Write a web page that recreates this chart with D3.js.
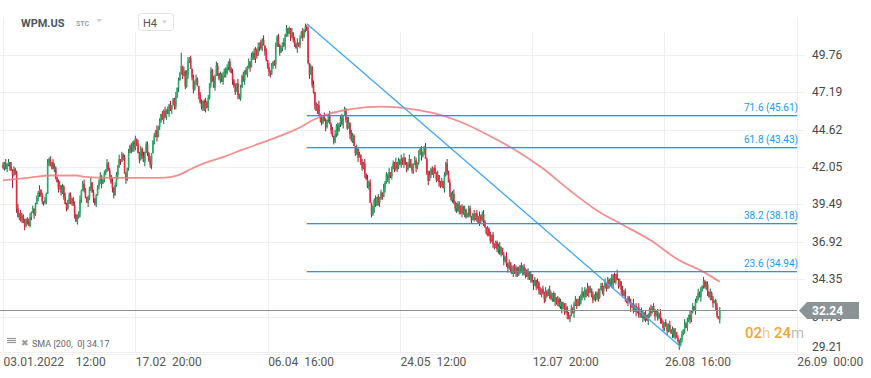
<!DOCTYPE html>
<html>
<head>
<meta charset="utf-8">
<script src="https://cdn.jsdelivr.net/npm/d3@7"></script>
<style>
    body { margin: 0; background: #fff; font-family: Roboto, "Noto Sans", sans-serif; }
    svg { display: block; }
</style>
</head>
<body>
<div id="chart"></div>
<script>
/* * * * * * * * * * * * * *
*      WPM.US H4 chart      *
* * * * * * * * * * * * * */

// x axis: bar index of each date tick and its label
const tickIdx = [0, 98, 196, 294, 392, 490, 588];
const tickLabels = ["03.01.2022    12:00", "17.02  20:00", "06.04  16:00", "24.05  12:00", "12.07  20:00", "26.08  16:00", "26.09  00:00"];

// y axis price ticks
const priceTicks = [49.76, 47.19, 44.62, 42.05, 39.49, 36.92, 34.35, 31.78, 29.21];

// closes per bar, one array per date-tick interval
const firstOpen = 42.2;
const closes0 = [42.0, 42.3, 41.9, 42.2, 42.4, 42.1, 41.8, 41.5, 41.9, 41.7,
    39.2, 38.6,
    38.9, 38.4, 38.7, 38.2, 38.0, 38.5, 38.3, 38.0, 38.6,
    38.9, 39.2, 38.8, 39.5, 39.9, 40.3, 40.5, 40.1, 39.7, 39.6,
    39.8, 40.2, 42.3,
    42.6, 42.2, 42.4, 41.9, 42.0,
    41.3, 41.0, 40.6, 40.8,
    40.3, 40.7, 40.0, 39.5, 39.2,
    39.8, 40.1, 39.6, 39.9, 39.4,
    38.8, 38.3, 38.6, 38.9,
    39.8, 40.4, 40.9, 40.5,
    40.0, 39.6, 39.9, 40.6, 41.0, 40.3,
    39.9, 39.5, 40.1, 40.7,
    41.0, 41.4, 40.9, 41.2,
    41.6, 41.9, 42.3, 41.8, 41.5,
    41.0, 40.6, 40.1, 40.8,
    41.5, 42.1, 42.6, 42.4, 42.9, 42.7,
    41.6, 41.2, 42.0,
    43.0, 43.5, 43.2, 43.8, 43.4];
const closes1 = [44.0,
    43.6, 43.0, 42.6, 43.3, 42.8, 42.4, 43.1,
    43.6, 43.0, 42.5, 42.2, 43.0,
    43.8, 44.2, 44.6, 44.1, 44.8,
    45.2, 45.7, 45.3, 45.9, 45.5,
    46.0, 45.7, 46.3, 46.0,
    46.3, 46.7, 46.2, 46.9,
    47.5, 48.0, 48.5,
    49.0, 48.3,
    48.6, 47.6,
    48.4, 49.3, 49.5, 48.8,
    48.2, 47.4,
    47.9, 48.1,
    47.6, 47.0, 46.5, 46.2,
    46.6, 46.0, 46.5, 46.1, 46.8,
    47.8, 48.7, 48.0,
    47.5,
    48.3, 49.0,
    48.5, 48.1, 48.4, 47.9,
    48.3, 48.8, 48.5, 48.9,
    49.3, 48.8,
    48.5, 48.0, 47.6, 47.2, 47.8, 47.0, 46.8,
    47.5, 48.3, 48.0, 48.7, 48.4,
    48.9, 49.3, 48.9, 49.6, 49.9, 49.5,
    50.1, 49.7, 50.3, 50.6, 50.2, 50.8, 50.4,
    50.0, 49.4];
const closes2 = [48.9, 48.6,
    48.4, 49.0,
    49.3, 49.1,
    50.3, 51.0,
    50.4, 49.9, 50.2,
    50.6, 50.4,
    51.1, 51.6,
    51.2, 51.5, 51.0,
    51.3, 50.8,
    50.5, 50.2, 50.6, 50.4,
    50.9, 51.3,
    51.0, 51.5, 51.7,
    51.4,
    49.2, 48.4, 48.9, 47.7,
    47.2, 46.3,
    45.9, 46.3, 45.7, 45.4,
    45.1, 45.5, 45.2, 44.8,
    45.3, 45.6, 45.0, 44.6,
    44.2, 43.8, 44.3,
    44.9, 44.5, 45.0,
    45.4, 45.0, 45.6,
    46.0,
    45.3, 44.7, 45.1,
    44.3, 43.9, 44.2,
    43.5, 43.0, 43.3,
    42.7, 42.9, 42.4,
    42.0, 42.3, 41.6,
    41.2, 40.7, 41.0,
    39.6, 38.8,
    39.2,
    39.8, 39.4, 40.0, 39.6,
    39.9, 40.3, 40.0, 40.6,
    41.0, 41.5, 41.2, 41.7,
    41.4, 41.9, 42.3, 41.9,
    42.4, 42.0, 42.5];
const closes3 = [42.2,
    42.6, 42.3, 42.7, 42.2, 41.9,
    42.3, 42.6, 42.1, 41.8, 42.2,
    42.5, 42.0, 42.4, 42.9, 43.3,
    42.8, 43.1, 43.4,
    42.6,
    41.6, 41.1,
    41.5, 41.9, 41.6, 42.0,
    41.6, 41.2, 41.5, 41.0,
    40.8, 41.1, 40.6,
    41.5, 42.3,
    41.7, 41.0, 40.3,
    39.8, 40.2, 39.6,
    39.2, 39.5, 39.0, 39.4, 38.9,
    39.3, 38.8, 39.1, 38.6, 38.9,
    39.2, 38.7, 38.4, 38.8, 38.5,
    38.9, 38.6, 38.2, 38.7, 38.4,
    38.8, 38.3, 37.9, 37.5, 37.8,
    37.3, 37.0, 37.4, 36.8, 36.5,
    36.9, 36.4, 36.6, 36.1, 36.5,
    36.0, 35.6, 35.9, 35.4, 35.1,
    35.5, 35.0, 34.7, 35.2, 34.8,
    35.1, 34.6, 34.9, 35.3, 34.8,
    35.2, 34.7, 35.0, 34.5, 34.8,
    34.4, 34.7];
const closes4 = [34.2, 33.9, 34.3,
    33.8, 34.1, 33.6, 33.3, 33.7,
    33.4, 33.0, 33.5, 33.2, 33.6,
    33.3, 33.0, 33.4, 32.8, 33.1,
    32.7, 33.0, 32.5, 32.8, 32.3,
    32.6, 32.1, 32.4, 31.9, 31.6,
    31.9, 32.3, 32.0, 32.6, 32.9,
    32.5, 33.0, 32.7, 33.2, 33.5,
    33.1, 33.6, 33.3, 33.8, 33.4,
    33.7, 33.2, 32.9, 33.3, 33.0,
    33.4, 33.1, 33.6, 33.9, 33.5,
    33.8, 34.1, 33.7, 34.3, 34.0,
    34.4, 34.0, 34.6, 34.2, 34.7,
    34.3, 33.9, 34.2, 33.6, 33.2,
    33.5, 33.0, 32.7, 33.1, 32.8,
    32.4, 32.7, 32.2, 32.5, 32.1,
    32.4, 31.9, 32.2, 31.7, 32.0,
    31.6, 31.9, 31.5, 31.8, 32.3,
    32.0, 32.5, 32.2, 31.8, 32.1,
    31.7, 32.0, 31.6, 31.3, 31.0];
const closes5 = [31.4, 31.1, 30.8, 31.2, 30.9,
    30.6, 30.9, 30.4, 30.7, 30.3,
    30.1, 29.8, 30.2, 30.6, 30.9,
    31.3, 31.0, 31.5, 31.9, 31.6,
    32.1, 32.5, 32.2, 32.8, 33.1,
    33.4, 33.1, 33.6, 33.9, 34.2,
    33.8, 34.0, 33.5, 33.1, 33.4,
    33.0, 32.7, 32.9, 32.4, 31.8,
    31.6, 32.24];

// wick lengths above / below the body, in tenths of a dollar
const wickUp = [
    "2131203121130221301231201213020213120231123021310220130213123102130201123102031203122130212103120",
    "12031213022130120312021302130113021903133120213102201312021313202130120213120312130212031321302130",
    "20312013121203120213021302130213021302130213201312031212302124032103120213031202130212031213022130213",
    "13021302132031201312312021301202131202311230213102201302131231021302011231020312031221302121031201",
    "20312021311320130212021312031231021302131203021312213021031203120312011203120312213021302112031202",
    "213021302112031203120213120312203120130212"
];
const wickDn = [
    "12021309123021203120120310231221302130210312120213120302132021031203120213021203132013120203120213",
    "21031203121230213021031202130221301202131023120312312021310202130213122031203120130213021320312031",
    "13202130120213120312203120312013021302132103120312123021302103120213022130120213102312031231202131",
    "02130213122031203120130213021321031203121230213021031202130221301202131023120312312021310202130213",
    "13021302132103120312123021302103120213022130120213102312031231202131020213021312203120312013021302",
    "203120312013021302132103120312123021302103"
];

// SMA 200 read at sample bars
const smaIdx = [0, 20, 35, 55, 60, 80, 110, 120, 130, 140, 150, 160, 180, 200, 210, 220, 230, 240, 250, 260, 280, 300, 320, 340, 360, 380, 400, 420, 440, 460, 480, 500, 520, 531];
const smaVal = [41.13, 41.33, 41.47, 41.47, 41.38, 41.31, 41.31, 41.33, 41.5, 41.95, 42.35, 42.64, 43.33, 44.0, 44.36, 44.77, 45.3, 45.66, 45.9, 46.07, 46.2, 46.07, 45.73, 45.11, 44.22, 43.19, 41.95, 40.44, 39.07, 38.04, 37.0, 35.7, 34.8, 34.17];

// fibonacci retracement drawn on the trend line
const fibLevels = ["71.6", "61.8", "38.2", "23.6"];
const fibPrices = [45.61, 43.43, 38.18, 34.94];
const trendIdx = [225, 502];
const trendPrice = [51.89, 29.70];

const lastPrice = 32.24;
const smaLabel = "SMA [200,  0] 34.17";


class CandleChart {

    constructor(parentElement) {
        this.parentElement = parentElement;
        this.initVis();
    }

    initVis() {
        let vis = this;

        vis.width = 871;
        vis.height = 378;
        vis.plot = {left: 0, right: 797, top: 0, bottom: 352};

        vis.svg = d3.select("#" + vis.parentElement).append("svg")
            .attr("width", vis.width)
            .attr("height", vis.height)
            .style("font-family", "Roboto, sans-serif");

        // scales
        vis.x = d3.scaleLinear().domain([0, 588]).range([3.1, 796.7]);
        vis.y = d3.scaleLinear().domain([49.76, 29.21]).range([54.8, 354.0]);

        vis.wrangleData();
    }

    wrangleData() {
        let vis = this;

        let closes = [].concat(closes0, closes1, closes2, closes3, closes4, closes5);
        let up = wickUp.join("");
        let dn = wickDn.join("");

        vis.bars = closes.map((c, i) => {
            let o = i === 0 ? firstOpen : closes[i - 1];
            let top = Math.max(o, c), bot = Math.min(o, c);
            return {
                i: i, open: o, close: c,
                high: top + (+up[i] || 0) / 10,
                low: bot - (+dn[i] || 0) / 10
            };
        });

        vis.sma = smaIdx.map((d, k) => ({i: d, v: smaVal[k]}));

        vis.updateVis();
    }

    updateVis() {
        let vis = this;
        let x = vis.x, y = vis.y;

        vis.svg.append("defs").append("clipPath").attr("id", "plot-clip")
            .append("rect")
            .attr("x", 0).attr("y", 0)
            .attr("width", vis.plot.right).attr("height", vis.plot.bottom);

        // grid
        let grid = vis.svg.append("g").attr("class", "grid");
        grid.selectAll(".hgrid")
            .data(priceTicks)
            .enter().append("line")
            .attr("x1", 0).attr("x2", 805)
            .attr("y1", d => Math.round(y(d)) + 0.5)
            .attr("y2", d => Math.round(y(d)) + 0.5)
            .attr("stroke", "#efefef");

        grid.selectAll(".vgrid")
            .data(tickIdx)
            .enter().append("line")
            .attr("x1", d => Math.round(x(d)) + 0.5)
            .attr("x2", d => Math.round(x(d)) + 0.5)
            .attr("y1", (d, i) => (i === 0 || i === tickIdx.length - 1) ? 17 : 32)
            .attr("y2", vis.plot.bottom)
            .attr("stroke", "#eeeeee");

        grid.append("line")
            .attr("x1", 0).attr("x2", 797)
            .attr("y1", vis.plot.bottom + 0.5).attr("y2", vis.plot.bottom + 0.5)
            .attr("stroke", "#eeeeee");

        let plot = vis.svg.append("g").attr("clip-path", "url(#plot-clip)");

        // candles
        let candles = plot.selectAll(".candle")
            .data(vis.bars)
            .enter().append("g")
            .attr("class", "candle");

        candles.append("line")
            .attr("x1", d => x(d.i)).attr("x2", d => x(d.i))
            .attr("y1", d => y(d.high)).attr("y2", d => y(d.low))
            .attr("stroke", d => d.close >= d.open ? "#0f6e3f" : "#a3182b")
            .attr("stroke-width", 1);

        candles.append("rect")
            .attr("x", d => x(d.i) - 0.8)
            .attr("width", 1.6)
            .attr("y", d => y(Math.max(d.open, d.close)))
            .attr("height", d => Math.max(1, Math.abs(y(d.open) - y(d.close))))
            .attr("fill", d => d.close >= d.open ? "#27ad68" : "#e8283c");

        // SMA 200
        let smaLine = d3.line()
            .x(d => x(d.i))
            .y(d => y(d.v))
            .curve(d3.curveMonotoneX);

        plot.append("path")
            .datum(vis.sma)
            .attr("d", smaLine)
            .attr("fill", "none")
            .attr("stroke", "#f07c7c")
            .attr("stroke-opacity", 0.85)
            .attr("stroke-width", 1.8);

        // fibonacci levels, drawn as thin bands
        let fib = vis.svg.append("g").attr("class", "fib");
        fib.selectAll("rect")
            .data(fibPrices)
            .enter().append("rect")
            .attr("x", x(trendIdx[0]))
            .attr("width", 797 - x(trendIdx[0]))
            .attr("y", d => Math.round(y(d)))
            .attr("height", 1.3)
            .attr("fill", "#2196f3");

        fib.selectAll("text")
            .data(fibPrices)
            .enter().append("text")
            .attr("x", 798)
            .attr("y", d => Math.round(y(d)) - 4)
            .attr("text-anchor", "end")
            .attr("font-size", 10)
            .attr("fill", "#2196f3")
            .text((d, k) => `${fibLevels[k]} (${d.toFixed(2)})`);

        // trend line
        plot.append("line")
            .attr("x1", x(trendIdx[0])).attr("y1", y(trendPrice[0]))
            .attr("x2", x(trendIdx[1])).attr("y2", y(trendPrice[1]))
            .attr("stroke", "#42a5f5")
            .attr("stroke-width", 1.3);

        // current price line
        vis.svg.append("line")
            .attr("x1", 0).attr("x2", 797)
            .attr("y1", Math.round(y(lastPrice)) + 0.5)
            .attr("y2", Math.round(y(lastPrice)) + 0.5)
            .attr("stroke", "#8a9094")
            .attr("stroke-width", 1);

        // price axis labels
        vis.svg.selectAll(".ylabel")
            .data(priceTicks)
            .enter().append("text")
            .attr("x", 812)
            .attr("y", d => Math.min(y(d), 347) + 4)
            .attr("font-size", 12)
            .attr("fill", "#474747")
            .text(d => d.toFixed(2));

        // price tag
        let py = Math.round(y(lastPrice)) + 0.5;
        vis.svg.append("path")
            .attr("d", `M799,${py} L807,${py - 8.5} L859,${py - 8.5} L859,${py + 8.5} L807,${py + 8.5} Z`)
            .attr("fill", "#8b9397");
        vis.svg.append("text")
            .attr("x", 812).attr("y", py + 4.5)
            .attr("font-size", 12).attr("font-weight", "bold")
            .attr("fill", "#fff")
            .text(lastPrice.toFixed(2));

        // date axis labels
        vis.svg.selectAll(".xlabel")
            .data(tickIdx)
            .enter().append("text")
            .attr("x", d => x(d) + 0.5)
            .attr("y", 366)
            .attr("font-size", 12)
            .attr("fill", "#555")
            .style("white-space", "pre")
            .attr("xml:space", "preserve")
            .text((d, k) => tickLabels[k]);

        // countdown
        let cd = vis.svg.append("text")
            .attr("x", 745).attr("y", 337.5)
            .attr("font-size", 15);
        cd.append("tspan").attr("fill", "#f5a430").attr("font-weight", 500).text("02");
        cd.append("tspan").attr("fill", "#ecc99a").text("h ");
        cd.append("tspan").attr("fill", "#f5a430").attr("font-weight", 500).text("24");
        cd.append("tspan").attr("fill", "#bdbdbd").text("m");

        // SMA legend
        let lg = vis.svg.append("g").attr("class", "legend");
        [338.5, 340.5, 342.5].forEach(yy => {
            lg.append("line")
                .attr("x1", 7).attr("x2", 16)
                .attr("y1", yy).attr("y2", yy)
                .attr("stroke", "#9a9a9a").attr("stroke-width", 1.2);
        });
        lg.append("text")
            .attr("x", 20.5).attr("y", 345.5)
            .attr("font-size", 9).attr("fill", "#9a9a9a")
            .text("\u2716");
        lg.append("text")
            .attr("x", 32).attr("y", 346.5)
            .attr("font-size", 9).attr("fill", "#666")
            .style("white-space", "pre")
            .attr("xml:space", "preserve")
            .text(smaLabel);

        // header
        let hd = vis.svg.append("g").attr("class", "header");
        hd.append("text")
            .attr("x", 21).attr("y", 26.5)
            .attr("font-size", 11).attr("font-weight", "bold")
            .attr("fill", "#4d5660")
            .text("WPM.US");
        hd.append("text")
            .attr("x", 76).attr("y", 26)
            .attr("font-size", 7).attr("font-weight", "bold")
            .attr("fill", "#95a3ae")
            .text("STC");
        hd.append("path")
            .attr("d", "M96.5,19 L102,19 L99.25,22.5 Z")
            .attr("fill", "#cfcfcf");
        hd.append("rect")
            .attr("x", 138.5).attr("y", 13.5)
            .attr("width", 35).attr("height", 17)
            .attr("rx", 3)
            .attr("fill", "#fff").attr("stroke", "#e2e2e2");
        hd.append("text")
            .attr("x", 143).attr("y", 26.5)
            .attr("font-size", 11)
            .attr("fill", "#555")
            .text("H4");
        hd.append("path")
            .attr("d", "M162,20.5 L167,20.5 L164.5,23.5 Z")
            .attr("fill", "#cfcfcf");
    }
}

new CandleChart("chart");
</script>
</body>
</html>
